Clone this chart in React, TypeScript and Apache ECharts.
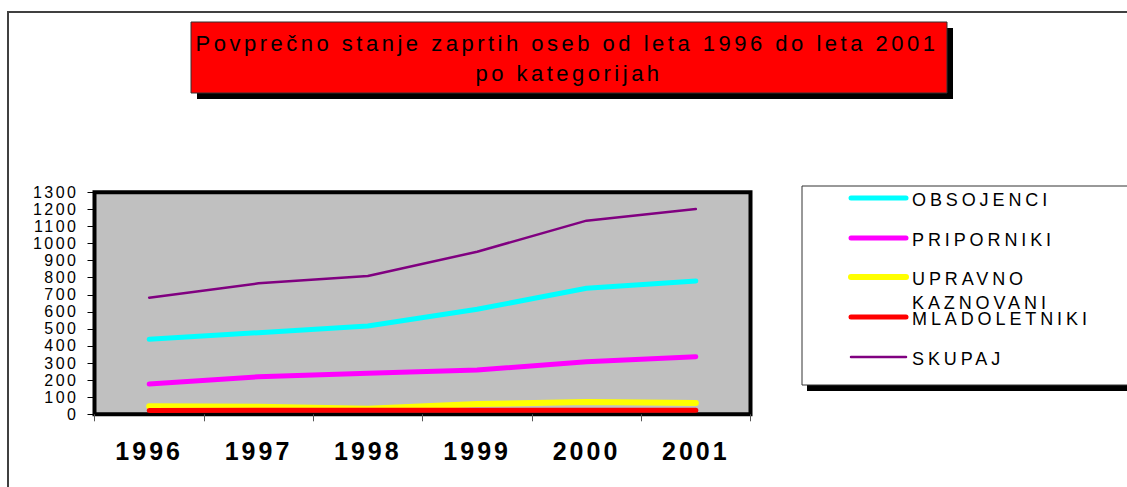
import React, { useEffect, useRef } from "react";
import * as echarts from "echarts";

const years = ["1996", "1997", "1998", "1999", "2000", "2001"];
const seriesNames = ["OBSOJENCI", "PRIPORNIKI", "UPRAVNO KAZNOVANI", "MLADOLETNIKI", "SKUPAJ"];
const obsojenci = [439, 478, 517, 615, 738, 781];
const priporniki = [177, 220, 240, 259, 308, 337];
const upravno = [47, 44, 33, 60, 72, 66];
const mladoletniki = [22, 24, 24, 23, 24, 24];
const skupaj = [683, 767, 810, 952, 1134, 1202];
const titleLines = ["Povprečno stanje zaprtih oseb od leta 1996 do leta 2001", "po kategorijah"];

const seriesData = [obsojenci, priporniki, upravno, mladoletniki, skupaj];
const colors = ["#00ffff", "#ff00ff", "#ffff00", "#ff0000", "#800080"];
const widths = [5, 5, 6, 5, 2.5];

const FONT = "'Liberation Sans', Arial, sans-serif";

export default function App() {
  const ref = useRef<HTMLDivElement>(null);
  useEffect(() => {
    if (!ref.current) return;
    const chart = echarts.init(ref.current, null, { renderer: "svg" });

    const legendY = [198, 238, 277, 317, 357];
    const legendGraphics: any[] = [];
    seriesNames.forEach((name, i) => {
      legendGraphics.push({
        type: "line",
        shape: { x1: 851, y1: legendY[i], x2: 906, y2: legendY[i] },
        style: { stroke: colors[i], lineWidth: widths[i], lineCap: "round" },
        z: 12,
      });
      legendGraphics.push({
        type: "text",
        x: 912,
        y: legendY[i] + 2 - (name.includes(" ") ? 12 : 0),
        style: {
          text: name.replace(" ", "\n"),
          font: `18px ${FONT}`,
          fill: "#000",
          verticalAlign: name.includes(" ") ? "top" : "middle",
          lineHeight: 24,
        },
        z: 12,
      });
    });

    chart.setOption({
      animation: false,
      backgroundColor: "#ffffff",
      grid: {
        left: 94.5,
        right: 376.5,
        top: 192.3,
        bottom: 72.7,
        show: true,
        backgroundColor: "#c0c0c0",
        borderColor: "#000",
        borderWidth: 4,
      },
      xAxis: {
        type: "category",
        data: years,
        boundaryGap: true,
        axisLine: { show: false },
        axisTick: { show: true, length: 7, lineStyle: { color: "#555", width: 1 } },
        axisLabel: {
          margin: 24,
          fontSize: 25,
          fontWeight: "bold",
          fontFamily: FONT,
          color: "#000",
        },
        z: 3,
      },
      yAxis: {
        type: "value",
        min: 0,
        max: 1300,
        interval: 100,
        axisLine: { show: false },
        axisTick: { show: true, length: 7, lineStyle: { color: "#000", width: 1 } },
        splitLine: { show: false },
        axisLabel: {
          margin: 16,
          fontSize: 16,
          fontFamily: FONT,
          color: "#000",
          formatter: (v: number) => String(v),
        },
      },
      series: seriesNames.map((name, i) => ({
        name,
        type: "line",
        data: seriesData[i],
        showSymbol: false,
        symbol: "none",
        lineStyle: { color: colors[i], width: widths[i], cap: "round", join: "round" },
        itemStyle: { color: colors[i] },
        z: 2 + i,
      })),
      graphic: [
        {
          type: "rect",
          shape: { x: 8, y: 12, width: 1300, height: 700 },
          style: { fill: "none", stroke: "#404040", lineWidth: 2 },
          z: 1,
          silent: true,
        },
        {
          type: "rect",
          shape: { x: 197, y: 28, width: 756, height: 71 },
          style: { fill: "#000" },
          z: 10,
        },
        {
          type: "rect",
          shape: { x: 191, y: 22, width: 756, height: 71 },
          style: { fill: "#ff0000", stroke: "#333", lineWidth: 1 },
          z: 11,
        },
        {
          type: "text",
          x: 567,
          y: 43,
          style: { text: titleLines[0], font: `22px ${FONT}`, fill: "#000", align: "center", verticalAlign: "middle" },
          z: 12,
        },
        {
          type: "text",
          x: 569,
          y: 73,
          style: { text: titleLines[1], font: `22px ${FONT}`, fill: "#000", align: "center", verticalAlign: "middle" },
          z: 12,
        },
        {
          type: "rect",
          shape: { x: 807, y: 191, width: 400, height: 200 },
          style: { fill: "#000" },
          z: 10,
        },
        {
          type: "rect",
          shape: { x: 802, y: 186, width: 400, height: 199 },
          style: { fill: "#fff", stroke: "#333", lineWidth: 1 },
          z: 11,
        },
        ...legendGraphics,
      ],
    });
    return () => chart.dispose();
  }, []);

  return (
    <>
      <style>{`
        #chartbox text[style*="22px"] { letter-spacing: 3.5px; }
        #chartbox text[style*="16px"] { letter-spacing: 2.5px; }
        #chartbox text[style*="25px"] { letter-spacing: 3px; }
        #chartbox text[style*="18px"] { letter-spacing: 3.9px; }
      `}</style>
      <div
        id="chartbox"
        ref={ref}
        style={{ position: "absolute", left: 0, top: 0, width: 1127, height: 487 }}
      />
    </>
  );
}
